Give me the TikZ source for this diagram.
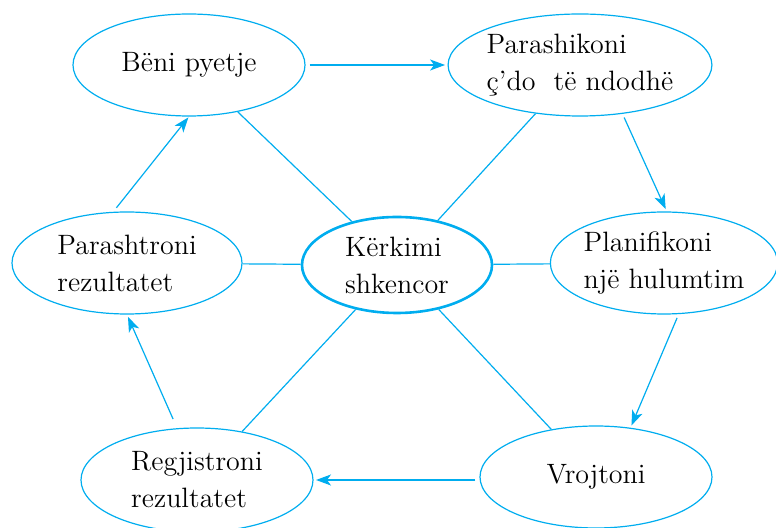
\documentclass[tikz,border=0pt]{standalone}
\usepackage{xcolor}
\usepackage{tikz}
\usetikzlibrary{shapes.geometric,arrows.meta}
\definecolor{sciblue}{RGB}{0,173,239}

\begin{document}
\begin{tikzpicture}[x=0.5pt, y=-0.5pt,
    stage/.style={ellipse, draw=sciblue, line width=0.6pt, inner sep=0pt, minimum width=116pt, minimum height=51pt, align=left, font=\fontsize{14}{18.5}\selectfont},
    hub/.style={stage, line width=1.3pt, minimum width=95pt, minimum height=48pt},
    link/.style={draw=sciblue, line width=0.6pt},
    arrow/.style={link, -{Stealth[length=7.5pt,width=5.5pt,inset=2pt]}, shorten <=2pt, shorten >=1.2pt}]
    \useasboundingbox (0,0) rectangle (776,528);

    \node[hub] (research) at (397,265) {Kërkimi\\shkencor};
    \node[stage] (ask) at (189,65) {Bëni pyetje};
    \node[stage] (predict) at (580,65) {Parashikoni\\ç’do\ \ të ndodhë};
    \node[stage, minimum width=112pt] (plan) at (664,263) {Planifikoni\\një hulumtim};
    \node[stage] (observe) at (596,477) {Vrojtoni};
    \node[stage, minimum height=52pt] (record) at (197,480) {Regjistroni\\rezultatet};
    \node[stage, minimum width=115pt] (present) at (127,263) {Parashtroni\\rezultatet};

    % spokes to the centre
    \foreach \n in {ask,predict,plan,observe,record,present}
        \draw[link] (\n) -- (research);

    % the cycle
    \draw[arrow] (ask.east) -- (predict.west);
    \draw[arrow] (predict.-49) -- (plan.87);
    \draw[arrow] (plan.-74) -- (observe.55);
    \draw[arrow] (observe.west |- record) -- (record);
    \draw[arrow, shorten <=5pt] (record.111) -- (present.south);
    \draw[arrow, shorten <=2.5pt, shorten >=0.5pt] (present.105) -- (ask.south);

\end{tikzpicture}
\end{document}
